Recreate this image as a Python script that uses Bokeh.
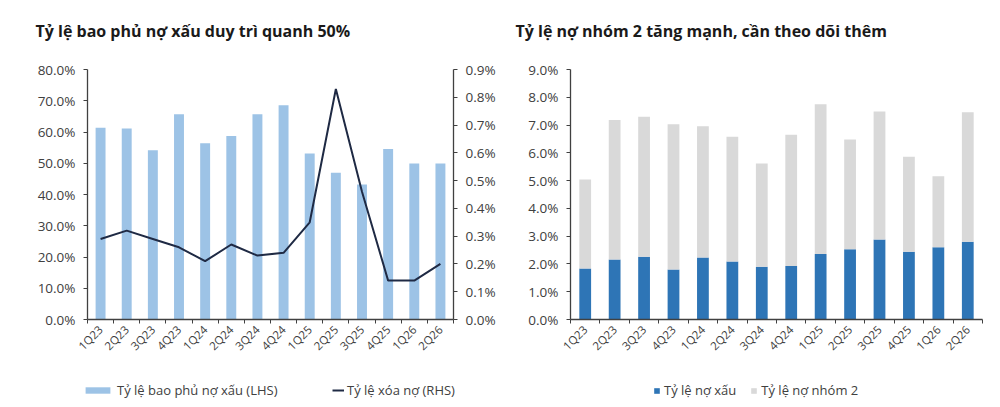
from math import pi

from bokeh.embed import file_html
from bokeh.layouts import column, row
from bokeh.models import (ColumnDataSource, FixedTicker, Label, Legend, LegendItem,
                          LinearAxis, PrintfTickFormatter, Range1d)
from bokeh.plotting import figure
from bokeh.resources import INLINE

# ---- data ----
quarters = ["1Q23", "2Q23", "3Q23", "4Q23", "1Q24", "2Q24", "3Q24",
            "4Q24", "1Q25", "2Q25", "3Q25", "4Q25", "1Q26", "2Q26"]

# left chart, %
coverage = [61.4, 61.1, 54.2, 65.7, 56.4, 58.7, 65.7,
            68.6, 53.1, 47.0, 43.2, 54.6, 49.9, 49.9]
writeoff = [0.29, 0.32, 0.29, 0.26, 0.21, 0.27, 0.23,
            0.24, 0.35, 0.83, 0.46, 0.14, 0.14, 0.20]

# right chart, %
npl = [1.84, 2.16, 2.26, 1.80, 2.23, 2.09, 1.90,
       1.93, 2.36, 2.53, 2.88, 2.44, 2.60, 2.80]
group2 = [3.20, 5.02, 5.04, 5.23, 4.73, 4.49, 3.72,
          4.72, 5.39, 3.95, 4.61, 3.42, 2.56, 4.66]

left_ticks = [0, 10, 20, 30, 40, 50, 60, 70, 80]
rhs_ticks = [0.0, 0.1, 0.2, 0.3, 0.4, 0.5, 0.6, 0.7, 0.8, 0.9]
right_ticks = [0, 1, 2, 3, 4, 5, 6, 7, 8, 9]

left_title = "Tỷ lệ bao phủ nợ xấu duy trì quanh 50%"
right_title = "Tỷ lệ nợ nhóm 2 tăng mạnh, cần theo dõi thêm"

FONT = "Open Sans"
AXIS_COLOR = "#404040"
LABEL_COLOR = "#404040"
BAR_LIGHT = "#9dc3e6"
LINE_DARK = "#1f2a44"
NPL_BLUE = "#2e75b6"
G2_GREY = "#d9d9d9"
TITLE_H = 50
CHART_H = 315
LEGEND_H = 40

idx = list(range(len(quarters)))
src = ColumnDataSource(dict(x=idx, q=quarters, coverage=coverage, writeoff=writeoff,
                            npl=npl, group2=group2))
# one blank row, only so the legend swatches have something to draw from
blank = ColumnDataSource(dict(x=[float("nan")], y=[float("nan")]))


def style_axis(ax):
    ax.axis_line_color = AXIS_COLOR
    ax.axis_line_width = 1.3
    ax.major_tick_line_color = AXIS_COLOR
    ax.minor_tick_line_color = AXIS_COLOR
    ax.major_label_text_font = FONT
    ax.major_label_text_font_size = "13.5px"
    ax.major_label_text_color = LABEL_COLOR
    ax.major_label_standoff = 8
    ax.major_tick_in = 0
    ax.major_tick_out = 4
    ax.minor_tick_in = 0
    ax.minor_tick_out = 0


def strip_fig(width, height):
    # blank strip for a title or a legend
    p = figure(width=width, height=height, output_backend="svg", toolbar_location=None,
               x_range=Range1d(0, 1), y_range=Range1d(0, 1), min_border=0)
    p.axis.visible = False
    p.grid.visible = False
    p.outline_line_color = None
    return p


def title_fig(width, text, x):
    p = strip_fig(width, TITLE_H)
    p.add_layout(Label(x=x, y=TITLE_H - 30, x_units="screen", y_units="screen", text=text,
                       text_font=FONT, text_font_size="16px", text_font_style="bold",
                       text_color="#1a1a1a", text_baseline="middle"))
    return p


def base_fig(width, border_left, border_right):
    p = figure(width=width, height=CHART_H, output_backend="svg",
               toolbar_location=None, x_range=Range1d(-0.5, len(quarters) - 0.5),
               min_border_left=border_left, min_border_right=border_right,
               min_border_top=69 - TITLE_H, min_border_bottom=TITLE_H + CHART_H - 319)
    p.outline_line_color = None
    p.xgrid.visible = False
    p.ygrid.visible = False

    xa = p.xaxis[0]
    style_axis(xa)
    xa.ticker = FixedTicker(ticks=idx, minor_ticks=[i - 0.5 for i in range(len(quarters) + 1)])
    xa.major_label_overrides = {i: q for i, q in zip(idx, quarters)}
    xa.major_label_orientation = pi / 4
    xa.major_label_text_font_size = "11.5px"
    xa.major_tick_out = 0
    xa.minor_tick_out = 4
    xa.major_label_standoff = 4
    return p


def make_legend(items, loc, gw, gh, standoff=4, spacing=0):
    return Legend(items=items, location=loc, orientation="horizontal",
                  glyph_width=gw, glyph_height=gh, label_standoff=standoff,
                  spacing=spacing, padding=0, margin=0, border_line_color=None,
                  background_fill_alpha=0, label_text_font=FONT,
                  label_text_font_size="13px", label_text_color=LABEL_COLOR)


# ---- titles ----
t1 = title_fig(510, left_title, 35)
t2 = title_fig(482, right_title, 5)

# ---- left chart ----
p1 = base_fig(510, 87, 57)
p1.y_range = Range1d(0, 80)
p1.extra_y_ranges = {"rhs": Range1d(0, 0.9)}

ya = p1.yaxis[0]
style_axis(ya)
ya.ticker = FixedTicker(ticks=left_ticks)
ya.formatter = PrintfTickFormatter(format="%.1f%%")

rhs = LinearAxis(y_range_name="rhs")
style_axis(rhs)
rhs.ticker = FixedTicker(ticks=rhs_ticks)
rhs.formatter = PrintfTickFormatter(format="%.1f%%")
p1.add_layout(rhs, "right")

p1.vbar(x="x", top="coverage", width=0.38, source=src,
        fill_color=BAR_LIGHT, line_color=None)
p1.line(x="x", y="writeoff", source=src, y_range_name="rhs",
        line_color=LINE_DARK, line_width=2)

# ---- right chart ----
p2 = base_fig(482, 60, 10)
p2.y_range = Range1d(0, 9)
yb = p2.yaxis[0]
style_axis(yb)
yb.ticker = FixedTicker(ticks=right_ticks)
yb.formatter = PrintfTickFormatter(format="%.1f%%")

p2.vbar_stack(["npl", "group2"], x="x", width=0.4, source=src,
              color=[NPL_BLUE, G2_GREY], line_color=None)

# ---- legends ----
l1 = strip_fig(510, LEGEND_H)
r_bar = l1.vbar(x="x", top="y", width=0.3, source=blank, fill_color=BAR_LIGHT, line_color=None)
r_line = l1.line(x="x", y="y", source=blank, line_color=LINE_DARK, line_width=2)
l1.add_layout(make_legend([LegendItem(label="Tỷ lệ bao phủ nợ xấu (LHS)", renderers=[r_bar])],
                          (82, 6), 31, 8), "center")
l1.add_layout(make_legend([LegendItem(label="Tỷ lệ xóa nợ (RHS)", renderers=[r_line])],
                          (332, 6), 12, 8, standoff=3), "center")

l2 = strip_fig(482, LEGEND_H)
r_npl = l2.vbar(x="x", top="y", width=0.3, source=blank, fill_color=NPL_BLUE, line_color=None)
r_g2 = l2.vbar(x="x", top="y", width=0.3, source=blank, fill_color=G2_GREY, line_color=None)
l2.add_layout(make_legend([LegendItem(label="Tỷ lệ nợ xấu", renderers=[r_npl]),
                           LegendItem(label="Tỷ lệ nợ nhóm 2", renderers=[r_g2])],
                          (143, 6), 7, 7, spacing=14), "center")

layout = column(row(t1, t2), row(p1, p2), row(l1, l2), spacing=0)
open("out.html", "w").write(file_html(layout, INLINE))
